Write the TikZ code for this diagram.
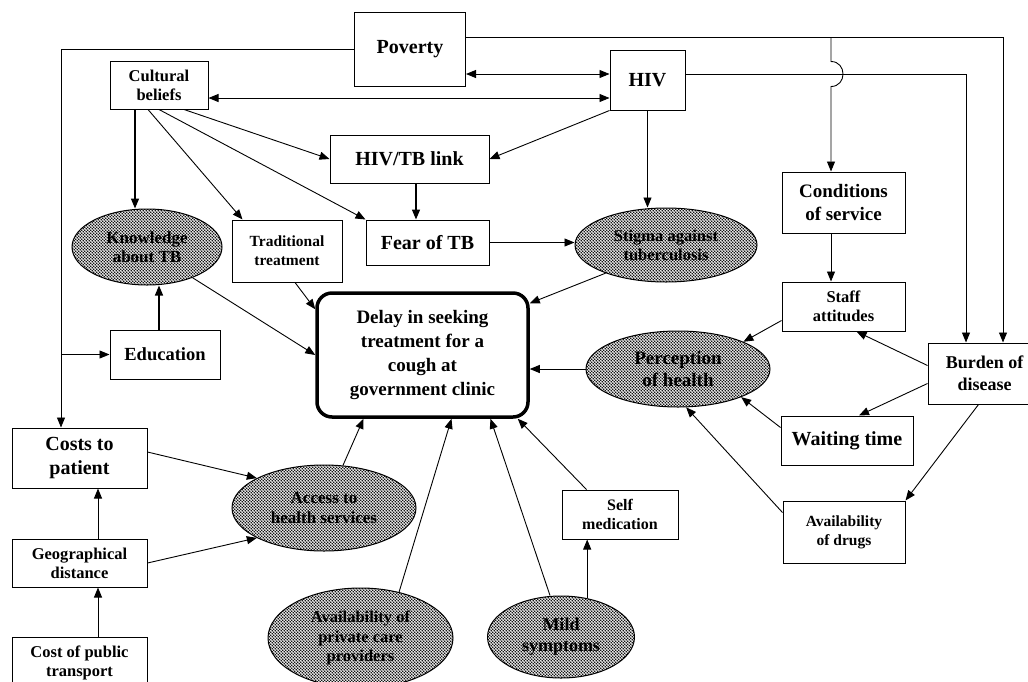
\documentclass[tikz,border=0pt]{standalone}
\usepackage{fontspec}
\setmainfont{Liberation Serif}
\usetikzlibrary{arrows.meta,shapes.geometric,patterns,calc}

% dense dot screen used inside the oval factors
\pgfdeclarepatternformonly{densedots}{\pgfqpoint{-0.1pt}{-0.1pt}}{\pgfqpoint{3.1pt}{3.1pt}}{\pgfqpoint{3pt}{3pt}}{%
  \pgfpathcircle{\pgfqpoint{0.75pt}{0.75pt}}{0.8pt}%
  \pgfpathcircle{\pgfqpoint{2.25pt}{2.25pt}}{0.8pt}%
  \pgfusepath{fill}}

\newcommand\fsz[2]{\fontsize{#1}{#2}\selectfont\bfseries}

\tikzset{
  box/.style={draw, line width=1pt, rectangle, inner sep=0pt, align=center, fill=white},
  blob/.style={draw, line width=1pt, ellipse, inner sep=0pt, align=center, pattern=densedots},
  mainbox/.style={draw, line width=3.5pt, rounded corners=15pt, inner sep=0pt, align=center, fill=white},
  arr/.style={-{Triangle[length=10pt,width=8pt]}, line width=0.9pt},
  arrb/.style={{Triangle[length=10pt,width=8pt]}-{Triangle[length=10pt,width=8pt]}, line width=0.9pt},
  heavy/.style={line width=1.4pt}
}

\begin{document}
\begin{tikzpicture}[x=1pt,y=-1pt]
\useasboundingbox (0,0) rectangle (1028,681);
\clip (0,0) rectangle (1028,681);

% ---------- factors ----------
\node[box, minimum width=111pt, minimum height=74pt, font=\fsz{20}{24}] (pov) at (410,49) {Poverty};
\node[box, minimum width=75pt, minimum height=60pt, font=\fsz{20}{24}] (hiv) at (647.5,80) {HIV};
\node[box, minimum width=98pt, minimum height=48pt, font=\fsz{16.5}{19}] (cult) at (159,85) {Cultural\\beliefs};
\node[box, minimum width=159pt, minimum height=48pt, font=\fsz{20}{24}] (link) at (409.5,159) {HIV/TB link};
\node[box, minimum width=123pt, minimum height=61pt, font=\fsz{19}{23}] (cond) at (843.5,202.5) {Conditions\\of service};
\node[box, minimum width=110pt, minimum height=62pt, font=\fsz{15.5}{19}] (trad) at (287,251) {Traditional\\treatment};
\node[box, minimum width=123pt, minimum height=45pt, font=\fsz{20}{24}] (fear) at (427.5,242.5) {Fear of TB};
\node[blob, minimum width=150pt, minimum height=76pt, font=\fsz{17}{19}] (know) at (147,247) {Knowledge\\about TB};
\node[blob, minimum width=182pt, minimum height=74pt, font=\fsz{16.5}{19}] (stig) at (666,245) {Stigma against\\tuberculosis};
\node[mainbox, minimum width=211pt, minimum height=124pt, font=\fsz{19}{24}] (delay) at (422.5,355) {Delay in seeking\\treatment for a\\cough at\\government clinic};
\node[box, minimum width=110pt, minimum height=49pt, font=\fsz{18.5}{22}] (edu) at (165,354.5) {Education};
\node[blob, minimum width=184pt, minimum height=76pt, font=\fsz{19}{22}] (perc) at (678,369) {Perception\\of health};
\node[box, minimum width=123pt, minimum height=49pt, font=\fsz{16.5}{19}] (staff) at (843.5,306.5) {Staff\\attitudes};
\node[box, minimum width=113pt, minimum height=61pt, font=\fsz{18}{22}] (burden) at (984.5,373.5) {Burden of\\disease};
\node[box, minimum width=132pt, minimum height=49pt, font=\fsz{20}{24}] (wait) at (847,440.5) {Waiting time};
\node[box, minimum width=122pt, minimum height=62pt, font=\fsz{15.5}{19}] (drugs) at (844,532) {Availability\\of drugs};
\node[box, minimum width=116pt, minimum height=49pt, font=\fsz{16}{19}] (self) at (620,514.5) {Self\\medication};
\node[blob, minimum width=147pt, minimum height=82pt, font=\fsz{18}{21}] (mild) at (561,637) {Mild\\symptoms};
\node[blob, minimum width=185pt, minimum height=100pt, font=\fsz{16.5}{19.5}] (priv) at (360.5,638) {Availability of\\private care\\providers};
\node[blob, minimum width=184pt, minimum height=86pt, font=\fsz{17}{20}] (access) at (324,508) {Access to\\health services};
\node[box, minimum width=135pt, minimum height=60pt, font=\fsz{20}{24}] (costs) at (79.5,458) {Costs to\\patient};
\node[box, minimum width=135pt, minimum height=48pt, font=\fsz{16.5}{19}] (geo) at (79.5,563) {Geographical\\distance};
\node[box, minimum width=135pt, minimum height=52pt, font=\fsz{16.5}{19.5}] (pub) at (79.5,663) {Cost of public\\transport};

% ---------- routing guides ----------
\coordinate (r37) at (0,37);
\coordinate (r74) at (0,74);
\coordinate (r98) at (0,98);
\coordinate (xl) at (61,0);
\coordinate (xc) at (831,0);
\coordinate (xh) at (966,0);
\coordinate (xp) at (1003,0);
\coordinate (xk) at (135,0);
\coordinate (xe) at (159,0);
\coordinate (xf) at (416,0);
\coordinate (xg) at (98,0);

% ---------- links ----------
\draw[arr] (pov.west) -| (costs.north -| xl);
\draw[arr] (edu.west -| xl) -- (edu.west);
\draw[arrb] (pov.east |- r74) -- (hiv.west |- r74);
\draw[arrb] (cult.east |- r98) -- (hiv.west |- r98);
\draw[arr] (pov.east |- r37) -| (burden.north -| xp);
\draw[arr] (hiv.east |- r74) -| (burden.north -| xh);
\draw[arr] (xc |- r37) -- ($(xc |- r74)+(0,-12.5)$)
  .. controls +(16,0) and +(16,0) .. ($(xc |- r74)+(0,12.5)$) -- (cond.north -| xc);
\draw[arr] (cond.south -| xc) -- (staff.north -| xc);

\draw[arr] (hiv.south west) -- (link.east);
\draw[arr] (hiv.south) -- (hiv.south |- stig.north);
\draw[arr, heavy] (cult.south -| xk) -- (know.north -| xk);
\draw[arr] ($(cult.south)+(-11,0)$) -- ($(trad.north west)+(11,0)$);
\draw[arr] (cult.south) -- (fear.north west);
\draw[arr] ($(cult.south)+(25,0)$) -- (link.west);
\draw[arr, heavy] (link.south -| xf) -- (fear.north -| xf);
\draw[arr] (fear.east) -- (fear.east -| stig.west);
\draw[arr] (stig.205) -- ($(delay.north east)+(0,12)$);
\draw[arr] (know.-34) -- (delay.west);
\draw[arr] ($(trad.south)+(8,0)$) -- ($(delay.north west)+(0,18)$);
\draw[arr, heavy] (edu.north -| xe) -- (know.south -| xe);
\draw[arr] (perc.west) -- (perc.west -| delay.east);

\draw[arr] ($(staff.west)+(0,14)$) -- (perc.north east);
\draw[arr] ($(burden.west)+(0,-8)$) -- ($(staff.south)+(13,0)$);
\draw[arr] ($(burden.west)+(0,10)$) -- ($(wait.north)+(12,0)$);
\draw[arr] ($(burden.south)+(-6,0)$) -- (drugs.north east);
\draw[arr] ($(wait.west)+(0,-13)$) -- (perc.-24);
\draw[arr] ($(drugs.north west)+(0,12)$) -- (perc.-78);

\draw[arr] ($(self.north west)+(25,0)$) -- ($(delay.south east)+(-12,0)$);
\draw[arr] ($(mild.north)+(-11,0)$) -- ($(delay.south)+(68,0)$);
\draw[arr] (mild.56) -- (mild.56 |- self.south);
\draw[arr] (priv.50) -- ($(delay.south)+(29,0)$);
\draw[arr] (access.66) -- ($(delay.south)+(-59,0)$);
\draw[arr] ($(costs.east)+(0,-6)$) -- (access.156);
\draw[arr] (geo.east) -- (access.204);
\draw[arr] (geo.north -| xg) -- (costs.south -| xg);
\draw[arr] (pub.north -| xg) -- (geo.south -| xg);
\end{tikzpicture}
\end{document}
